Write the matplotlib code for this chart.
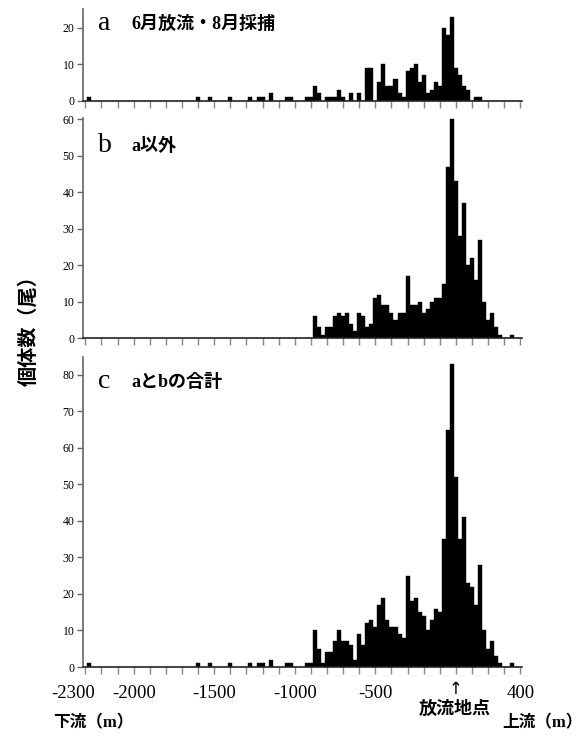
import numpy as np
import matplotlib.pyplot as plt
from matplotlib.transforms import ScaledTranslation

# distance from release point (m), 25 m bins (bin centres)
far_m = [-2275, -1600, -1525, -1400, -1275, -1225, -1200, -1150, -1050, -1025]
far_a = [1, 1, 1, 1, 1, 1, 1, 2, 1, 1]

main_m = np.arange(-925, 351, 25)   # -925 ... 350

# a: 6月放流・8月採捕
cnt_a = [1, 1, 4, 2, 0, 1, 1, 1, 3, 1,
         0, 2, 0, 2, 0, 9, 9, 0, 5, 10,
         4, 4, 6, 2, 1, 8, 9, 10, 5, 7,
         2, 3, 5, 4, 20, 18, 23, 9, 7, 4,
         3, 0, 1, 1, 0, 0, 0, 0, 0, 0,
         0, 0]
# b: a以外
cnt_b = [0, 0, 6, 3, 1, 3, 3, 6, 7, 6,
         7, 4, 2, 7, 6, 3, 4, 11, 12, 9,
         9, 7, 5, 7, 7, 17, 9, 9, 10, 7,
         8, 10, 11, 11, 15, 47, 60, 43, 28, 37,
         20, 22, 16, 27, 10, 5, 7, 3, 1, 0,
         0, 1]
# c: aとbの合計
cnt_c = [1, 1, 10, 5, 1, 4, 4, 7, 10, 7,
         7, 6, 2, 9, 6, 12, 13, 11, 17, 19,
         13, 11, 11, 9, 8, 25, 18, 19, 15, 14,
         10, 13, 16, 15, 35, 65, 83, 52, 35, 41,
         23, 22, 17, 28, 10, 5, 7, 3, 1, 0,
         0, 1]

panels = [
    ("a", "6月放流・8月採捕", far_m, far_a, cnt_a, [0, 10, 20], 25.1),
    ("b", "a以外", [], [], cnt_b, [0, 10, 20, 30, 40, 50, 60], 60.3),
    ("c", "aとbの合計", far_m, far_a, cnt_c, [0, 10, 20, 30, 40, 50, 60, 70, 80], 85.0),
]

xlabels = {-2300: "-2300", -2000: "-2000", -1500: "-1500", -1000: "-1000",
           -500: "-500", 0: "↑", 400: "400"}

W, H = 581, 736
fig = plt.figure(figsize=(W / 100, H / 100), dpi=100)

mixed = ["Liberation Serif", "Noto Sans CJK JP"]
gothic = ["Noto Sans CJK JP", "DejaVu Sans"]

# pixel boxes (left, top, right, bottom)
boxes = [(82.7, 9, 521.7, 100.7), (82.7, 118.3, 521.7, 338.3), (82.7, 356.7, 521.7, 667)]
title_y = [30, 152, 388]

for i, (letter, sub, fm, fc, cnt, yt, ytop) in enumerate(panels):
    l, t, r, b = boxes[i]
    ax = fig.add_axes([l / W, 1 - b / H, (r - l) / W, (b - t) / H])
    ax.bar(main_m, cnt, width=25, color="black", edgecolor="black", linewidth=0.3)
    if len(fm):
        ax.bar(fm, fc, width=25, color="black", edgecolor="black", linewidth=0.3)
    ax.set_xlim(-2316, 408)
    ax.set_ylim(0, ytop)
    ax.spines["top"].set_visible(False)
    ax.spines["right"].set_visible(False)
    ax.spines["left"].set_color("#666666")
    ax.spines["left"].set_linewidth(1.2)
    ax.spines["bottom"].set_color("#222222")
    ax.spines["bottom"].set_linewidth(1.2)
    ax.set_yticks(yt)
    ax.set_yticklabels([str(v) for v in yt], fontsize=8.5, family="Liberation Serif")
    ax.tick_params(axis="y", length=4, width=1, color="#666666", pad=2)
    ticks = np.arange(-2300, 401, 100)
    ax.set_xticks(ticks)
    ax.tick_params(axis="x", length=5, width=1, color="#888888")
    if i == 2:
        ax.set_xticklabels([xlabels.get(int(v), "") for v in ticks],
                           fontsize=13.5, family="Liberation Serif")
        ax.tick_params(axis="x", pad=8)
        for v, lab in zip(ticks, ax.get_xticklabels()):
            if v == -2300:
                lab.set_transform(lab.get_transform() +
                                  ScaledTranslation(-12 / 100, 0, fig.dpi_scale_trans))
            if v == 0:
                lab.set_family("DejaVu Sans")
                lab.set_fontsize(12)
                lab.set_transform(lab.get_transform() +
                                  ScaledTranslation(0, 5 / 100, fig.dpi_scale_trans))
    else:
        ax.set_xticklabels([])

    fig.text(98 / W, 1 - title_y[i] / H, letter, fontsize=20, family="Liberation Serif",
             ha="left", va="baseline")
    fig.text(131 / W, 1 - (title_y[i] - 1) / H, sub, fontsize=13, family=mixed,
             weight="bold", ha="left", va="baseline")

fig.text(28 / W, 1 - 326 / H, "個体数（尾）", rotation=90, fontsize=14.5, family=gothic,
         weight="bold", ha="center", va="center")
fig.text(53 / W, 1 - 723 / H, "下流（m）", fontsize=12, family=mixed, weight="bold",
         ha="left", va="center")
fig.text(502 / W, 1 - 723 / H, "上流（m）", fontsize=12, family=mixed, weight="bold",
         ha="left", va="center")
fig.text(455 / W, 1 - 708 / H, "放流地点", fontsize=13, family=gothic, weight="bold",
         ha="center", va="center")

fig.savefig("out.png", dpi=100)
